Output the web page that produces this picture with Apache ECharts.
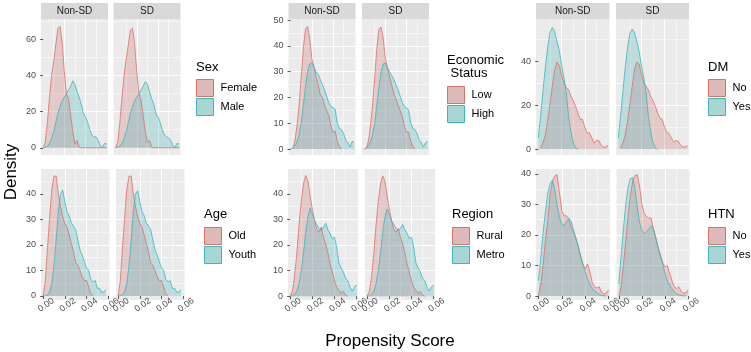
<!DOCTYPE html>
<html><head><meta charset="utf-8">
<script src="https://cdn.jsdelivr.net/npm/echarts@6/dist/echarts.min.js"></script>
<style>html,body{margin:0;padding:0;background:#fff}#c{width:751px;height:352px}</style>
</head><body><div id="c"></div>
<script>
// ---- data ----
const xs = [0,0.002,0.004,0.006,0.008,0.010,0.012,0.014,0.016,0.018,0.020,0.022,0.024,0.026,0.028,0.030,0.032,0.034,0.036,0.038,0.040,0.042,0.044,0.046,0.048,0.050,0.052,0.054,0.056,0.058,0.060];
const xTicks = [0,0.02,0.04,0.06];
const facets = ['Non-SD','SD'];

const sexLevels = ['Female','Male'];
const sexFemaleNSD = [0,3,14,28,40,48,57,66,67,58,42,30,27,18,9,2,4,0.5,0,0,0,0,0,0,0,0,0,0,0,0,0];
const sexMaleNSD   = [0,0.3,1,2.5,5,9,14,19,23,26,28,30,32,34,37,35,31,28,24,19,17,14,10,7,6,6,4,1,0.3,2.5,2];
const sexFemaleSD  = [0,3,14,28,40,49,57,65,66,57,42,30,26,18,9,3,4,0.5,0,0,0,0,0,0,0,0,0,0,0,0,0];
const sexMaleSD    = [0,0.3,1,2.5,5,9,14,19,23,26,28,30,32,34,36.5,35,31,27,24,19,17,14,10,7,6,5.5,4,1,0.3,2.5,2];
const sexYTicks = [0,20,40,60];

const ecoLevels = ['Low','High'];
const ecoLowNSD  = [null,0.2,3,9,17,28,39,46.5,47.5,43,35,32,28,25,21,20,17,15,13,9,6.5,7,3,1,0,null,null,null,null,null,null];
const ecoHighNSD = [0,0.3,1.2,2.8,5.5,10,17,24,30,33,33.5,31.5,30,29,27,25,23,20.5,18,16.5,16,15.5,10,8,7.5,6,3.5,2.5,0.8,3,2.5];
const ecoLowSD   = [null,0.2,3,9,17,28,39,46.5,47.3,43,35,31.5,28,25,21.5,19.5,17,15,12.5,9,6.5,6.5,3,1,0,null,null,null,null,null,null];
const ecoHighSD  = [0,0.3,1.2,2.8,5.5,10,17,24,30,33,33.3,31.5,30,28.5,27,25,23,20.5,18,16.5,16,15,10,8,7.5,6,3.5,2.5,0.8,2.5,3];
const ecoYTicks = [0,10,20,30,40,50];

const dmLevels = ['No','Yes'];
const dmNoNSD  = [null,0.3,3,6.5,12.5,20.5,28.5,36,39.5,38,33.5,30,28,27,24,22,19.5,16.5,13.5,13.5,10,7.3,7.3,5,2.7,4,3.8,1.8,0.9,1,1.7];
const dmYesNSD = [5,15,26.5,37,46,53,55.3,53.5,49,45,38,32.5,26,15,8,3,0.5,0,null,null,null,null,null,null,null,null,null,null,null,null,null];
const dmNoSD   = [null,0.3,3,6.5,12.5,20.5,28.5,36,39.5,38.5,34,30,28.5,27,24,22,19.5,16.5,14,13.5,10,7.5,7,5,3,4,3.5,1.8,0.9,1,1.5];
const dmYesSD  = [5,15,26.5,37,46,52.5,54.5,53,49,44.5,38,32.5,26,15,8,3,0.5,0,null,null,null,null,null,null,null,null,null,null,null,null,null];
const dmYTicks = [0,20,40];

const ageLevels = ['Old','Youth'];
const ageOldNSD   = [0,6,19,31,42,47,47,40,35,31,28.5,27,24,20.5,17.5,13,12,10,7.5,6,6,3.5,0.8,0,null,null,null,null,null,null,null];
const ageYouthNSD = [0,0.1,0.5,1.5,5,12,22,33,40,41.5,37,33,31.5,28.5,27.5,26,22,18,16,13.5,11,10,6.5,5.5,6,3,3,1.5,1.5,2.5,null];
const ageOldSD    = [0,6,19,31,42,47,47,40,35,31,28.5,27,24,20.5,17.5,13,12,10,7.5,6,6,3.5,0.8,0,null,null,null,null,null,null,null];
const ageYouthSD  = [0,0.1,0.5,1.5,5,12,22,33,40,41.3,37,33,31.5,28.5,27.5,26,22,18,16,13.5,11,10,6.5,5.5,6,3,3,1.5,1.5,2.5,null];
const ageYTicks = [0,10,20,30,40];

const regLevels = ['Rural','Metro'];
const regRuralNSD = [0,2,8,17,28,37,44,47.2,45,39,34,29.5,26,25,27,23,20.5,17,12.5,9.5,6,3.5,2.3,1.2,1.8,0.4,0,null,null,null,null];
const regMetroNSD = [0,0.2,0.8,2,5,10,17,25,31,34.5,32,29.5,28,26.5,25.5,27,28.5,26,24.5,22.5,23,19,13,11,9.5,7,6,3.5,2,3.5,4.5];
const regRuralSD  = [0,2,8,17,28,37,44,47,45,39,34,29.5,26,25,26.5,23,20.5,17,12.5,9.5,6,3.5,2.3,1.2,1.8,0.4,0,null,null,null,null];
const regMetroSD  = [0,0.2,0.8,2,5,10,17,25,31,34,32,29.5,28,26.5,25.5,26.5,28,26,24.5,22.5,23,19,13,11,9.5,7,6,3.5,2,3.5,4.5];
const regYTicks = [0,10,20,30,40];

const htnLevels = ['No','Yes'];
const htnNoNSD  = [0,3.5,10,18,24.5,33,37.5,39.3,39.8,34,28,26.3,26.3,25.3,22.5,21,19,16.3,13,10.5,9,10.5,8,4.5,3,2.6,3,1.2,0.7,1,2];
const htnYesNSD = [5,12,20.5,27.5,33.5,36.8,38,35,29.5,26,23.5,23,24.4,25.5,24.5,21.8,19,16.5,13.5,10.5,7.9,5.6,4,2.5,1.7,1.1,0.5,0.2,0.1,0,null];
const htnNoSD   = [0,3,10,18,26,33,37.5,39.5,39.7,36,30,27,26,25.5,25.5,22,19,16,13.5,11,9.5,10,7.5,5,3,2.5,3,1.5,1,1,2];
const htnYesSD  = [4,13,22,30,35.5,38.5,38.8,35,29,24,21.5,20.5,21,22,23,22,19,16,13,10.5,7.5,5,3.5,2.4,1.5,0.8,0.4,0.2,0.1,0,null];
const htnYTicks = [0,10,20,30,40];

// ---- styles / layout ----
const lineCols = ['#D9716B', '#3DB5B9'];
const fillCols = ['rgba(205,110,108,0.40)', 'rgba(70,180,186,0.40)'];
const keyCols = ['#DDB9B8', '#AAD5D7'];
const FONT = 'Liberation Sans, Arial, sans-serif';

const groups = [
  {title:'Sex', levels:sexLevels, data:[[sexFemaleNSD,sexMaleNSD],[sexFemaleSD,sexMaleSD]], yTicks:sexYTicks,
   boxes:[[41,19,67,136],[113.5,19,67,136]], yr:[-4,71.1], ySplit:4, top:true, tpos:[196,67], lpos:[196,79]},
  {title:'Economic\n Status', levels:ecoLevels, data:[[ecoLowNSD,ecoHighNSD],[ecoLowSD,ecoHighSD]], yTicks:ecoYTicks,
   boxes:[[288.5,19,67,136],[362,19,67,136]], yr:[-2.3,50.4], ySplit:5, top:true, tpos:[447,66.5], lpos:[447,86]},
  {title:'DM', levels:dmLevels, data:[[dmNoNSD,dmYesNSD],[dmNoSD,dmYesSD]], yTicks:dmYTicks,
   boxes:[[536,19,73.5,136],[616,19,73,136]], yr:[-2.7,59.1], ySplit:3, top:true, tpos:[708,67], lpos:[708,79]},
  {title:'Age', levels:ageLevels, data:[[ageOldNSD,ageYouthNSD],[ageOldSD,ageYouthSD]], yTicks:ageYTicks,
   boxes:[[41,169,68.5,131],[116,169,68.5,131]], yr:[-1.6,49.8], ySplit:5, top:false, tpos:[204,214], lpos:[204,227]},
  {title:'Region', levels:regLevels, data:[[regRuralNSD,regMetroNSD],[regRuralSD,regMetroSD]], yTicks:regYTicks,
   boxes:[[288,169,70,131],[365,169,70,131]], yr:[-1.5,49.7], ySplit:5, top:false, tpos:[452,214], lpos:[452,227]},
  {title:'HTN', levels:htnLevels, data:[[htnNoNSD,htnYesNSD],[htnNoSD,htnYesSD]], yTicks:htnYTicks,
   boxes:[[536,169,74,131],[616.5,169,73,131]], yr:[-1.3,41.6], ySplit:4, top:false, tpos:[708,214], lpos:[708,227]}
];

const grid = [], xAxis = [], yAxis = [], series = [], legend = [], graphic = [];
let k = 0;
groups.forEach(g => {
  g.boxes.forEach((b, fi) => {
    grid.push({left:b[0], top:b[1], width:b[2], height:b[3], show:true, backgroundColor:'#EBEBEB', borderWidth:0, containLabel:false});
    const showX = !g.top;
    xAxis.push({
      gridIndex:k, type:'value', min:-0.002, max:0.0612, splitNumber:3,
      axisLine:{show:false},
      axisTick:{show:showX, length:3, lineStyle:{color:'#333333', width:0.8}, customValues:xTicks},
      axisLabel:{show:showX, customValues:xTicks, formatter:v=>v.toFixed(2), rotate:35, fontSize:9, color:'#4D4D4D',
                 fontFamily:FONT, margin:7, align:'center', verticalAlign:'middle', padding:[0,0,0,7]},
      splitLine:{show:true, showMinLine:false, showMaxLine:false, lineStyle:{color:'#FFFFFF', width:1.1}},
      minorTick:{show:false, splitNumber:2},
      minorSplitLine:{show:true, lineStyle:{color:'#FFFFFF', width:0.5}}
    });
    const showY = fi === 0;
    yAxis.push({
      gridIndex:k, type:'value', min:g.yr[0], max:g.yr[1], splitNumber:g.ySplit,
      axisLine:{show:false},
      axisTick:{show:showY, length:3, lineStyle:{color:'#333333', width:0.8}, customValues:g.yTicks},
      axisLabel:{show:showY, customValues:g.yTicks, fontSize:9, color:'#4D4D4D', fontFamily:FONT, margin:5},
      splitLine:{show:true, showMinLine:false, showMaxLine:false, lineStyle:{color:'#FFFFFF', width:1.1}},
      minorTick:{show:false, splitNumber:2},
      minorSplitLine:{show:true, lineStyle:{color:'#FFFFFF', width:0.5}}
    });
    g.data[fi].forEach((arr, li) => {
      const pts = [];
      arr.forEach((v, i) => { if (v !== null) pts.push([xs[i], v]); });
      series.push({
        type:'line', name:g.levels[li], xAxisIndex:k, yAxisIndex:k, data:pts,
        showSymbol:false, symbol:'none', silent:true, smooth:false,
        lineStyle:{color:lineCols[li], width:0.8},
        itemStyle:{color:lineCols[li]},
        areaStyle:{color:fillCols[li]}
      });
    });
    if (g.top) {
      graphic.push({type:'rect', silent:true, shape:{x:b[0], y:3, width:b[2], height:16}, style:{fill:'#D9D9D9'}});
      graphic.push({type:'text', silent:true, x:b[0]+b[2]/2, y:11.5,
        style:{text:facets[fi], fill:'#1A1A1A', fontSize:10, fontFamily:FONT, align:'center', verticalAlign:'middle'}});
    }
    k++;
  });
  graphic.push({type:'text', silent:true, x:g.tpos[0], y:g.tpos[1],
    style:{text:g.title, fill:'#000000', fontSize:13, lineHeight:13, fontFamily:FONT, align:'left', verticalAlign:'middle'}});
  legend.push({
    orient:'vertical', left:g.lpos[0], top:g.lpos[1], itemWidth:17, itemHeight:17, itemGap:1, padding:0,
    selectedMode:false, textStyle:{fontSize:11, color:'#000000', fontFamily:FONT, padding:[0,0,0,2]},
    data:g.levels.map((n, li) => ({name:n, icon:'rect', itemStyle:{color:keyCols[li], borderColor:lineCols[li], borderWidth:1}}))
  });
});

graphic.push({type:'text', silent:true, x:11, y:172, rotation:Math.PI/2,
  style:{text:'Density', fill:'#000000', fontSize:17, fontFamily:FONT, align:'center', verticalAlign:'middle'}});
graphic.push({type:'text', silent:true, x:390, y:341,
  style:{text:'Propensity Score', fill:'#000000', fontSize:17, fontFamily:FONT, align:'center', verticalAlign:'middle'}});

const chart = echarts.init(document.getElementById('c'), null, {renderer:'canvas'});
chart.setOption({
  animation:false, backgroundColor:'#FFFFFF', textStyle:{fontFamily:FONT},
  grid, xAxis, yAxis, series, legend, graphic
});
</script></body></html>
